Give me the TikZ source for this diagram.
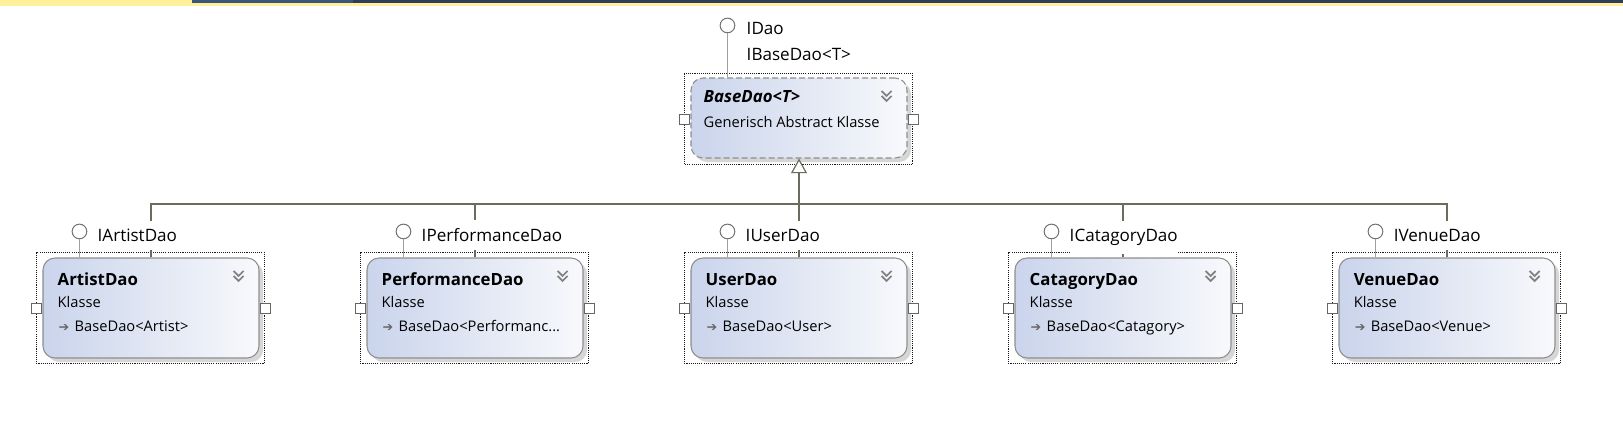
\documentclass[tikz,border=0pt]{standalone}
\usepackage{fontspec}
\setmainfont{Open Sans}
\newfontfamily\daosym{DejaVu Sans}
\usetikzlibrary{arrows.meta,shadows,calc}

\definecolor{daoline}{HTML}{6B6B5E}
\definecolor{daoedge}{HTML}{8E8E8E}
\definecolor{daostem}{HTML}{A0A0A0}
\definecolor{daoleft}{HTML}{CAD4EB}
\definecolor{daoright}{HTML}{F8F9FC}
\definecolor{daoyellow}{HTML}{FFF09B}
\definecolor{daonavy}{HTML}{2E3D58}
\definecolor{daosteel}{HTML}{3B5578}

\newcommand\daoarrow{\makebox[12pt][l]{\daosym\fontsize{9.5}{9.5}\selectfont\color{black!60}➔}}
\newcommand\daofold[1]{%
  \draw[dao fold] ($(#1.north east)+(-26,13.5)$) -- ++(5,5) -- ++(5,-5)
                  ($(#1.north east)+(-26,18.5)$) -- ++(5,5) -- ++(5,-5);}

\tikzset{
  dao class/.style={rectangle, draw=daoedge, line width=0.8pt, rounded corners=9pt,
    left color=daoleft, right color=daoright, minimum width=162pt, minimum height=75pt, inner sep=0pt,
    drop shadow={shadow xshift=3pt, shadow yshift=-3pt, fill=black!16, opacity=1}},
  dao abstract/.style={dao class, dash pattern=on 4.5pt off 2.25pt, minimum height=60pt},
  dao select/.style={draw=black!90, line width=1.4pt, dash pattern=on 0.8pt off 0.8pt},
  dao port/.style={rectangle, draw=black!60, fill=white, line width=0.6pt, minimum size=7.5pt, inner sep=0pt},
  dao lolli/.style={circle, draw=black!55, fill=white, line width=0.75pt, minimum size=11pt, inner sep=0pt},
  dao stem/.style={draw=daostem, line width=1.1pt},
  dao inherit/.style={draw=daoline, line width=0.9pt},
  dao fold/.style={draw=black!50, line width=1.3pt},
  dao label/.style={anchor=base west, inner xsep=0pt, inner ysep=6pt, fill=white, font=\fontsize{12.8}{15}\selectfont},
  dao title/.style={anchor=base west, inner sep=0pt, font=\bfseries\fontsize{12.6}{15}\selectfont},
  dao text/.style={anchor=base west, inner sep=0pt, font=\fontsize{11}{13}\selectfont},
}

\begin{document}
\begin{tikzpicture}[x=0.75pt, y=-0.75pt]
    \useasboundingbox (0,0) rectangle (1623,436);
    \fill[white] (0,0) rectangle (1623,436);
    % window strip
    \fill[daoyellow] (0,0) rectangle (1623,6);
    \fill[daosteel] (192,0) rectangle (353,3);
    \fill[daonavy] (353,0) rectangle (1623,3);

    % classes
    \node (base) [dao abstract] at (799,118) {};
    \node (artist) [dao class] at (151,308) {};
    \node (perf) [dao class] at (475,308) {};
    \node (user) [dao class] at (799,308) {};
    \node (cat) [dao class] at (1123,308) {};
    \node (venue) [dao class] at (1447,308) {};

    % selection frames
    \draw[dao select] ($(base.north west)+(-6,-4)$) rectangle ($(base.south east)+(5,6)$);
    \draw[dao select] ($(artist.north west)+(-6,-5)$) rectangle ($(artist.south east)+(5,5)$);
    \draw[dao select] ($(perf.north west)+(-6,-5)$) rectangle ($(perf.south east)+(5,5)$);
    \draw[dao select] ($(user.north west)+(-6,-5)$) rectangle ($(user.south east)+(5,5)$);
    \draw[dao select] ($(cat.north west)+(-6,-5)$) rectangle ($(cat.south east)+(5,5)$);
    \draw[dao select] ($(venue.north west)+(-6,-5)$) rectangle ($(venue.south east)+(5,5)$);

    % ports
    \node (base-w) [dao port] at ($(base.west)+(-6,1)$) {};
    \node (base-e) [dao port] at ($(base.east)+(6,1)$) {};
    \node (artist-w) [dao port] at ($(artist.west)+(-6,0)$) {};
    \node (artist-e) [dao port] at ($(artist.east)+(6,0)$) {};
    \node (perf-w) [dao port] at ($(perf.west)+(-6,0)$) {};
    \node (perf-e) [dao port] at ($(perf.east)+(6,0)$) {};
    \node (user-w) [dao port] at ($(user.west)+(-6,0)$) {};
    \node (user-e) [dao port] at ($(user.east)+(6,0)$) {};
    \node (cat-w) [dao port] at ($(cat.west)+(-6,0)$) {};
    \node (cat-e) [dao port] at ($(cat.east)+(6,0)$) {};
    \node (venue-w) [dao port] at ($(venue.west)+(-6,0)$) {};
    \node (venue-e) [dao port] at ($(venue.east)+(6,0)$) {};

    % collapse marks
    \daofold{base}
    \daofold{artist}
    \daofold{perf}
    \daofold{user}
    \daofold{cat}
    \daofold{venue}

    % class texts
    \node (base-n) [dao title] at ($(base.north west)+(13,25)$) {\itshape BaseDao<T>};
    \node (base-k) [dao text] at ($(base.north west)+(13,50)$) {Generisch Abstract Klasse};

    \node (artist-n) [dao title] at ($(artist.north west)+(15,28)$) {ArtistDao};
    \node (artist-k) [dao text] at ($(artist.north west)+(15,50)$) {Klasse};
    \node (artist-b) [dao text] at ($(artist.north west)+(16,74)$) {\daoarrow BaseDao<Artist>};

    \node (perf-n) [dao title] at ($(perf.north west)+(15,28)$) {PerformanceDao};
    \node (perf-k) [dao text] at ($(perf.north west)+(15,50)$) {Klasse};
    \node (perf-b) [dao text] at ($(perf.north west)+(16,74)$) {\daoarrow BaseDao<Performanc...};

    \node (user-n) [dao title] at ($(user.north west)+(15,28)$) {UserDao};
    \node (user-k) [dao text] at ($(user.north west)+(15,50)$) {Klasse};
    \node (user-b) [dao text] at ($(user.north west)+(16,74)$) {\daoarrow BaseDao<User>};

    \node (cat-n) [dao title] at ($(cat.north west)+(15,28)$) {CatagoryDao};
    \node (cat-k) [dao text] at ($(cat.north west)+(15,50)$) {Klasse};
    \node (cat-b) [dao text] at ($(cat.north west)+(16,74)$) {\daoarrow BaseDao<Catagory>};

    \node (venue-n) [dao title] at ($(venue.north west)+(15,28)$) {VenueDao};
    \node (venue-k) [dao text] at ($(venue.north west)+(15,50)$) {Klasse};
    \node (venue-b) [dao text] at ($(venue.north west)+(16,74)$) {\daoarrow BaseDao<Venue>};

    % inheritance
    \coordinate (bus) at (799,204);
    \draw[dao inherit] (artist.north) |- (bus);
    \draw[dao inherit] (perf.north) |- (bus);
    \draw[dao inherit] (user.north) -- (bus);
    \draw[dao inherit] (cat.north) |- (bus);
    \draw[dao inherit] (venue.north) |- (bus);
    \draw[dao inherit, -{Triangle[open, length=11pt, width=12pt, fill=white]}] (bus) -- (base.south);

    % interfaces
    \node (base-i) [dao lolli] at ($(base.north west)+(37,-52)$) {};
    \draw[dao stem] (base-i.south) -- (base-i.south |- base.north);
    \node (base-l1) [dao label] at ($(base-i)+(19,9)$) {IDao};
    \node (base-l2) [dao label, fill=none] at ($(base-i)+(19,35)$) {IBaseDao<T>};

    \node (artist-i) [dao lolli] at ($(artist.north west)+(37,-26)$) {};
    \draw[dao stem] (artist-i.south) -- (artist-i.south |- artist.north);
    \node (artist-l) [dao label] at ($(artist-i)+(18,10)$) {IArtistDao};

    \node (perf-i) [dao lolli] at ($(perf.north west)+(37,-26)$) {};
    \draw[dao stem] (perf-i.south) -- (perf-i.south |- perf.north);
    \node (perf-l) [dao label] at ($(perf-i)+(18,10)$) {IPerformanceDao};

    \node (user-i) [dao lolli] at ($(user.north west)+(37,-26)$) {};
    \draw[dao stem] (user-i.south) -- (user-i.south |- user.north);
    \node (user-l) [dao label] at ($(user-i)+(18,10)$) {IUserDao};

    \node (cat-i) [dao lolli] at ($(cat.north west)+(37,-26)$) {};
    \draw[dao stem] (cat-i.south) -- (cat-i.south |- cat.north);
    \node (cat-l) [dao label] at ($(cat-i)+(18,10)$) {ICatagoryDao};

    \node (venue-i) [dao lolli] at ($(venue.north west)+(37,-26)$) {};
    \draw[dao stem] (venue-i.south) -- (venue-i.south |- venue.north);
    \node (venue-l) [dao label] at ($(venue-i)+(18,10)$) {IVenueDao};
  \end{tikzpicture}
\end{document}
